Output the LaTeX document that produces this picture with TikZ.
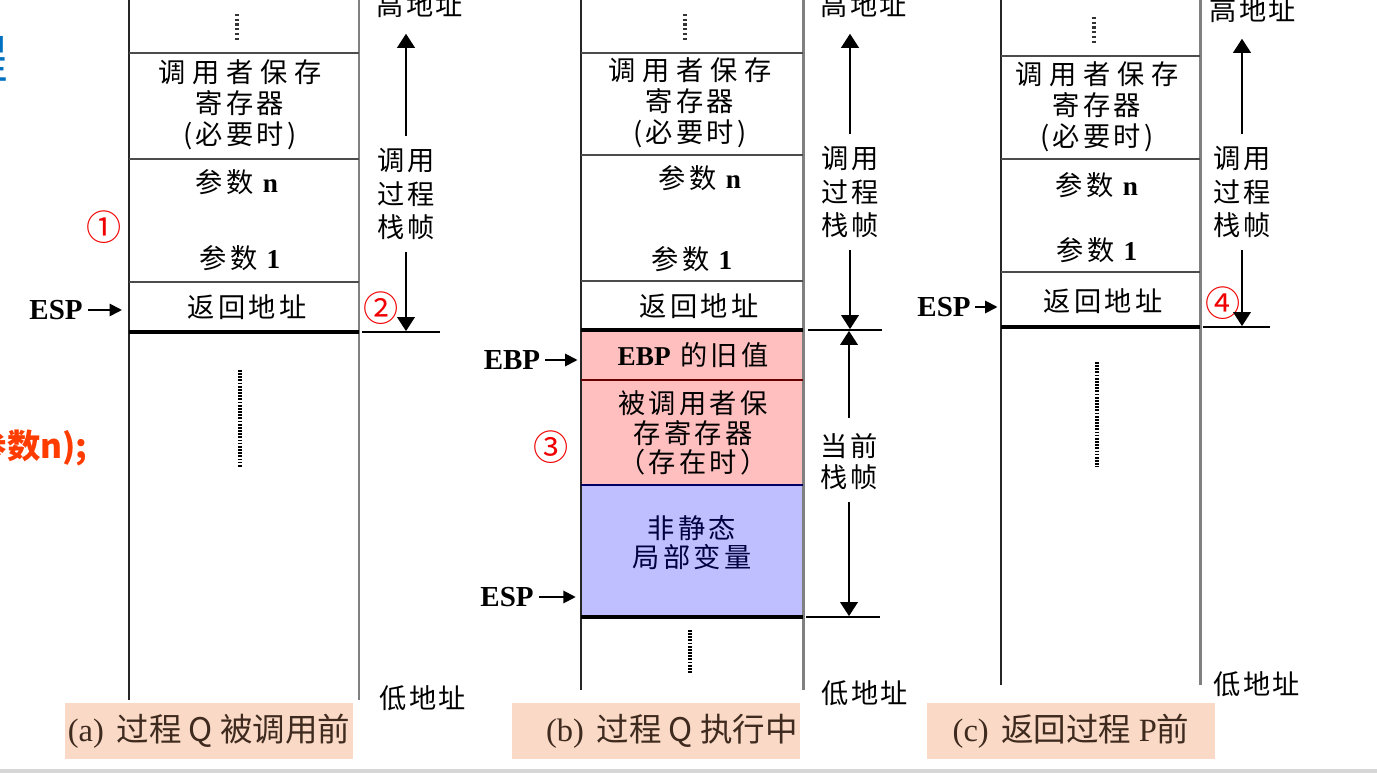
\documentclass[tikz,border=0pt]{standalone}
\usepackage{fontspec}
\setmainfont{Noto Sans CJK SC}
\newfontfamily\tms{Liberation Serif}
\usepackage{xcolor}
\usepackage{tikz}
\usetikzlibrary{arrows.meta}
\definecolor{pinkcell}{RGB}{255,191,191}
\definecolor{bluecell}{RGB}{191,191,255}
\definecolor{capfill}{RGB}{250,218,198}
\definecolor{captext}{RGB}{62,42,30}
\definecolor{wallgray}{RGB}{128,128,128}
\definecolor{noteblue}{RGB}{0,112,192}
\definecolor{notered}{RGB}{255,60,0}
\definecolor{stepred}{RGB}{240,0,0}

\begin{document}
\begin{tikzpicture}[x=0.02cm, y=-0.02cm,
  wall/.style={line width=1.1pt, black!85},
  rwall/.style={line width=1.7pt, wallgray},
  sep/.style={line width=1.1pt, black!70},
  topline/.style={line width=2.1pt, black},
  ext/.style={line width=1.1pt, black},
  gapdots/.style={line width=2pt, dash pattern=on 1pt off 0.8pt, black},
  gaptop/.style={line width=1.8pt, dash pattern=on 1.2pt off 1.5pt, black!80},
  cell/.style={inner sep=0, align=center, font=\fontsize{15.5}{17.6}\selectfont\addfontfeatures{LetterSpace=12}},
  side/.style={inner sep=0, align=center, font=\fontsize{15.5}{19}\selectfont\addfontfeatures{LetterSpace=8}},
  addr/.style={inner sep=0, font=\fontsize{15.5}{19}\selectfont\addfontfeatures{LetterSpace=8}},
  ptr/.style={inner sep=0, font=\fontsize{16.5}{16.5}\selectfont\tms\bfseries},
  stepno/.style={inner sep=0, text=stepred, font=\fontsize{20}{20}\selectfont},
  caption/.style={fill=capfill, text=captext, inner sep=0, minimum width=5.76cm, minimum height=1.14cm, font=\fontsize{18.5}{20}\selectfont},
  pt/.style={-{Triangle[length=7pt,width=7pt]}, line width=1.1pt},
  upar/.style={-{Triangle[length=8pt,width=10pt]}, line width=1.1pt},
]
\useasboundingbox (0,0) rectangle (1377,773);

% (a) before Q is called
\draw[wall] (129,0) -- (129,700);
\draw[rwall] (359,0) -- (359,700);
\coordinate (aL) at (129,0);
\draw[sep] (129,53) -- (359,53);
\draw[sep] (129,159) -- (359,159);
\draw[sep] (129,282) -- (359,282);
\draw[topline] (129,332) -- (359,332);
\coordinate (ea) at (440,332);
\draw[ext] (362,332) -- (ea);
\draw[gaptop] (237,14) -- (237,42);
\draw[gapdots] (240,370) -- (240,467);
\node (sva) [cell] at (240,105) {{\addfontfeatures{LetterSpace=25}调用者保存}\\寄存器\\(必要时)};
\node (pna) [cell] at (237,182) {参数~{\tms\bfseries n}};
\node (p1a) [cell] at (240,258) {参数~{\tms\bfseries 1}};
\node (raa) [cell] at (247,307) {返回地址};
\node (espa) [ptr] at (56,310) {ESP};
\draw[pt, shorten <=2.8pt, shorten >=4pt] (espa.east) -- (espa.east -| aL);
\node (s1) [stepno] at (104,227) {①};
\node (s2) [stepno] at (381,308) {②};
\node (hia) [addr] at (420,5) {高地址};
\node (fa) [side] at (406,194) {调用\\过程\\栈帧};
\draw[upar, shorten <=6.8pt, shorten >=9pt] (fa.north) -- (fa.north |- hia.south);
\draw[upar, shorten <=6.8pt, shorten >=0.5pt] (fa.south) -- (fa.south |- ea);
\node (loa) [addr] at (423,698) {低地址};
\node (capa) [caption] at (209,731) {{\tms (a)}\ \,过程 Q 被调用前};

% (b) Q running
\fill[pinkcell] (581,330) rectangle (803,485);
\fill[bluecell] (581,485) rectangle (803,617);
\draw[wall] (581,0) -- (581,690);
\draw[rwall] (803,0) -- (803,690);
\coordinate (bL) at (581,0);
\draw[sep] (581,53) -- (803,53);
\draw[sep] (581,155) -- (803,155);
\draw[sep] (581,281) -- (803,281);
\draw[topline] (581,330) -- (803,330);
\draw[line width=1pt, red!40!black] (581,380) -- (803,380);
\draw[line width=1pt, blue!40!black] (581,485) -- (803,485);
\draw[topline] (581,617) -- (803,617);
\coordinate (eb) at (882,330);
\coordinate (eb2) at (880,617);
\draw[ext] (808,330) -- (eb);
\draw[ext] (806,617) -- (eb2);
\draw[gaptop] (685,14) -- (685,42);
\draw[gapdots] (690,630) -- (690,673);
\node (svb) [cell] at (690,103) {{\addfontfeatures{LetterSpace=25}调用者保存}\\寄存器\\(必要时)};
\node (pnb) [cell] at (700,178) {参数~{\tms\bfseries n}};
\node (p1b) [cell] at (692,259) {参数~{\tms\bfseries 1}};
\node (rab) [cell] at (699,306) {返回地址};
\node (obp) [cell] at (693,355) {{\tms\bfseries EBP}~的旧值};
\node (cs) [cell, font=\fontsize{15.5}{17}\selectfont\addfontfeatures{LetterSpace=12}] at (693,433) {被调用者保\\存寄存器\\（存在时）};
\node (loc) [cell, text=blue!25!black, font=\fontsize{15.5}{16.5}\selectfont\addfontfeatures{LetterSpace=12}] at (692,543) {非静态\\局部变量};
\node (ebp) [ptr] at (512,360) {EBP};
\draw[pt, shorten <=2.8pt, shorten >=2pt] (ebp.east) -- (ebp.east -| bL);
\node (espb) [ptr] at (507,597) {ESP};
\draw[pt, shorten <=3pt, shorten >=3pt] (espb.east) -- (espb.east -| bL);
\node (s3) [stepno] at (551,447) {③};
\node (hib) [addr] at (864,5) {高地址};
\node (fb) [side] at (850,192) {调用\\过程\\栈帧};
\draw[upar, shorten <=6.8pt, shorten >=9pt] (fb.north) -- (fb.north |- hib.south);
\draw[upar, shorten <=6.8pt, shorten >=0.5pt] (fb.south) -- (fb.south |- eb);
\node (cur) [side, font=\fontsize{15.5}{17.6}\selectfont\addfontfeatures{LetterSpace=8}] at (849,462) {当前\\栈帧};
\draw[upar, shorten <=9pt, shorten >=0.5pt] (cur.north) -- (cur.north |- eb);
\draw[upar, shorten <=6.8pt, shorten >=0.5pt] (cur.south) -- (cur.south |- eb2);
\node (lob) [addr] at (865,693) {低地址};
\node (capb) [caption] at (656,731) {\hspace*{0.64cm}{\tms (b)}\ \,过程 Q 执行中};

% (c) before returning to P
\draw[wall] (1001,0) -- (1001,685);
\draw[rwall] (1200,0) -- (1200,685);
\coordinate (cL) at (1001,0);
\draw[sep] (1001,56) -- (1200,56);
\draw[sep] (1001,159) -- (1200,159);
\draw[sep] (1001,272) -- (1200,272);
\draw[topline] (1001,327) -- (1200,327);
\coordinate (ec) at (1270,327);
\draw[ext] (1203,327) -- (ec);
\draw[gaptop] (1094,17) -- (1094,45);
\draw[gapdots] (1097,362) -- (1097,467);
\node (svc) [cell] at (1097,107) {{\addfontfeatures{LetterSpace=25}调用者保存}\\寄存器\\(必要时)};
\node (pnc) [cell] at (1097,185) {参数~{\tms\bfseries n}};
\node (p1c) [cell] at (1097,250) {参数~{\tms\bfseries 1}};
\node (rac) [cell] at (1103,301) {返回地址};
\node (espc) [ptr] at (944,307) {ESP};
\draw[pt, shorten <=2.5pt, shorten >=2pt] (espc.east) -- (espc.east -| cL);
\node (s4) [stepno] at (1223,303) {④};
\node (hic) [addr] at (1253,10) {高地址};
\node (fc) [side] at (1242,192) {调用\\过程\\栈帧};
\draw[upar, shorten <=6.8pt, shorten >=9pt] (fc.north) -- (fc.north |- hic.south);
\draw[upar, shorten <=6.8pt, shorten >=0.5pt] (fc.south) -- (fc.south |- ec);
\node (loc2) [addr] at (1257,684) {低地址};
\node (capc) [caption] at (1071,731) {{\tms (c)}\ \,返回过程 {\tms P}前};

% cut-off slide text on the left
\node (ttl) [anchor=east, inner sep=0, text=noteblue, font=\fontsize{30}{30}\selectfont] at (9,59) {程};
\node (note) [anchor=east, inner sep=0, fill=white, minimum height=1.12cm, text=notered, font=\fontsize{19}{19}\selectfont\bfseries] at (128,448) {参数n);\hspace*{0.8cm}};
\fill[black!16] (0,769) rectangle (1377,773);
\end{tikzpicture}
\end{document}
